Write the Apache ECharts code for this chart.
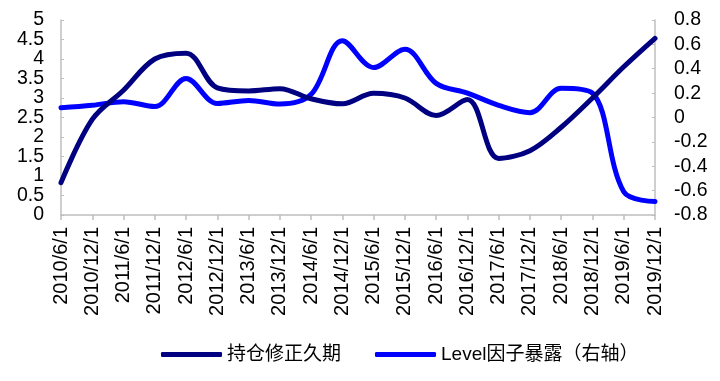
<!DOCTYPE html>
<html>
<head>
<meta charset="utf-8">
<script src="https://cdn.jsdelivr.net/npm/echarts@6/dist/echarts.min.js"></script>
<style>html,body{margin:0;padding:0;background:#fff}#c{width:720px;height:381px}</style>
</head>
<body>
<div id="c"></div>
<script>
const categories = ['2010/6/1','2010/12/1','2011/6/1','2011/12/1','2012/6/1','2012/12/1','2013/6/1','2013/12/1','2014/6/1','2014/12/1','2015/6/1','2015/12/1','2016/6/1','2016/12/1','2017/6/1','2017/12/1','2018/6/1','2018/12/1','2019/6/1','2019/12/1'];
const durationValues = [0.83, 2.45, 3.2, 4.0, 4.15, 3.26, 3.18, 3.24, 2.98, 2.85, 3.12, 3.0, 2.55, 2.96, 1.45, 1.65, 2.25, 3.0, 3.8, 4.53];
const levelValues = [0.08, 0.10, 0.13, 0.09, 0.32, 0.115, 0.14, 0.11, 0.19, 0.63, 0.41, 0.56, 0.28, 0.2, 0.10, 0.04, 0.24, 0.2, -0.61, -0.69];
const seriesNames = ['持仓修正久期', 'Level因子暴露（右轴）'];
const leftTicks = {min: 0, max: 5, interval: 0.5};
const rightTicks = {min: -0.8, max: 0.8, interval: 0.2};

const font = '"Liberation Sans", Arial, "Noto Sans CJK SC", sans-serif';
const chart = echarts.init(document.getElementById('c'), null, {renderer: 'canvas'});
const axisLine = {show: true, lineStyle: {color: '#bfbfbf', width: 1.5}};
const yLabel = (margin) => ({
  fontSize: 19.5, lineHeight: 16, color: '#000', fontFamily: font, margin: margin,
  showMinLabel: true, showMaxLabel: true, hideOverlap: false,
  formatter: v => String(Math.round(v * 10) / 10)
});
chart.setOption({
  animation: false,
  grid: {left: 61, right: 65, top: 20, bottom: 166},
  legend: {
    bottom: 12, left: 156,
    itemWidth: 61, itemHeight: 5, itemGap: 34,
    textStyle: {fontSize: 19, color: '#000', fontFamily: font, padding: [0, 0, 0, 0]},
    data: [
      {name: seriesNames[0], icon: 'roundRect'},
      {name: seriesNames[1], icon: 'roundRect'}
    ]
  },
  xAxis: {
    type: 'category', data: categories, boundaryGap: false,
    axisLine: axisLine,
    axisTick: {show: true, inside: false, length: 5, lineStyle: {color: '#bfbfbf', width: 1.5}},
    axisLabel: {rotate: 90, interval: 0, fontSize: 20, lineHeight: 20, color: '#000', fontFamily: font, margin: 12, hideOverlap: false}
  },
  yAxis: [
    {
      type: 'value', min: leftTicks.min, max: leftTicks.max, interval: leftTicks.interval,
      axisLine: axisLine,
      axisTick: {show: true, inside: true, length: 3, lineStyle: {color: '#bfbfbf'}},
      splitLine: {show: false},
      axisLabel: yLabel(17)
    },
    {
      type: 'value', position: 'right', min: rightTicks.min, max: rightTicks.max, interval: rightTicks.interval,
      axisLine: axisLine,
      axisTick: {show: true, inside: true, length: 3, lineStyle: {color: '#bfbfbf'}},
      splitLine: {show: false},
      axisLabel: yLabel(19)
    }
  ],
  series: [
    {
      name: seriesNames[0], type: 'line', yAxisIndex: 0, data: durationValues,
      smooth: 0.35, showSymbol: false, symbol: 'none',
      lineStyle: {color: '#000080', width: 5, cap: 'round'},
      itemStyle: {color: '#000080'}, z: 3
    },
    {
      name: seriesNames[1], type: 'line', yAxisIndex: 1, data: levelValues,
      smooth: 0.35, showSymbol: false, symbol: 'none',
      lineStyle: {color: '#0000ff', width: 5, cap: 'round'},
      itemStyle: {color: '#0000ff'}, z: 2
    }
  ]
});
</script>
</body>
</html>
